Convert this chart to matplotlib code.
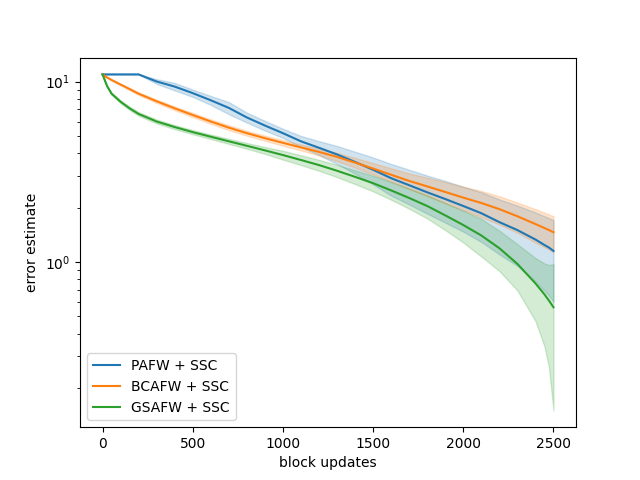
import matplotlib
matplotlib.use("Agg")
import matplotlib.pyplot as plt
import numpy as np

x = [0, 25, 50, 100, 150, 200, 300, 400, 500, 600, 700, 800, 900, 1000, 1100, 1200,
     1300, 1400, 1500, 1600, 1700, 1800, 1900, 2000, 2100, 2200, 2300, 2400, 2450, 2475, 2500]

pafw_mean = [10.95, 10.95, 10.95, 10.95, 10.95, 10.95, 10.0, 9.37, 8.62, 7.87, 7.14, 6.32, 5.70,
             5.17, 4.66, 4.29, 3.94, 3.58, 3.24, 2.91, 2.66, 2.43, 2.23, 2.04, 1.86, 1.66,
             1.50, 1.33, 1.24, 1.20, 1.15]
pafw_std = [0, 0, 0, 0, 0, 0, 0.3, 0.45, 0.4, 0.45, 0.55, 0.4, 0.35, 0.3, 0.33, 0.38, 0.45,
            0.5, 0.55, 0.58, 0.58, 0.58, 0.58, 0.57, 0.57, 0.56, 0.55, 0.55, 0.55, 0.55, 0.55]

bcafw_mean = [10.95, 10.53, 10.2, 9.62, 9.08, 8.56, 7.77, 7.10, 6.52, 6.00, 5.55, 5.17, 4.85,
              4.57, 4.31, 4.07, 3.82, 3.55, 3.29, 3.04, 2.81, 2.62, 2.44, 2.27, 2.12, 1.96,
              1.79, 1.62, 1.54, 1.50, 1.46]
bcafw_std = [0, 0.05, 0.08, 0.1, 0.12, 0.14, 0.16, 0.17, 0.17, 0.17, 0.17, 0.16, 0.16, 0.16,
             0.16, 0.18, 0.2, 0.22, 0.24, 0.26, 0.28, 0.31, 0.33, 0.34, 0.35, 0.35, 0.34,
             0.34, 0.335, 0.33, 0.33]

gsafw_mean = [10.95, 9.43, 8.56, 7.72, 7.10, 6.61, 6.00, 5.59, 5.24, 4.94, 4.66, 4.40, 4.15,
              3.91, 3.67, 3.44, 3.20, 2.96, 2.73, 2.49, 2.26, 2.04, 1.81, 1.60, 1.40, 1.19,
              0.974, 0.76, 0.66, 0.61, 0.56]
gsafw_std = [0, 0.1, 0.12, 0.14, 0.15, 0.15, 0.15, 0.14, 0.14, 0.14, 0.15, 0.16, 0.18, 0.22,
             0.23, 0.24, 0.25, 0.26, 0.27, 0.28, 0.29, 0.3, 0.31, 0.32, 0.33, 0.3, 0.28, 0.29,
             0.32, 0.35, 0.41]

labels = ["PAFW + SSC", "BCAFW + SSC", "GSAFW + SSC"]

fig, ax = plt.subplots(figsize=(6.4, 4.8), dpi=100)
xa = np.array(x)
for m, s, lab in [(pafw_mean, pafw_std, labels[0]),
                  (bcafw_mean, bcafw_std, labels[1]),
                  (gsafw_mean, gsafw_std, labels[2])]:
    m = np.array(m)
    s = np.array(s)
    line, = ax.plot(xa, m, label=lab)
    ax.fill_between(xa, m - s, m + s, color=line.get_color(), alpha=0.2)

ax.set_yscale("log")
ax.set_xlabel("block updates")
ax.set_ylabel("error estimate")
ax.legend(loc="lower left")
fig.savefig("out.png", dpi=100)
